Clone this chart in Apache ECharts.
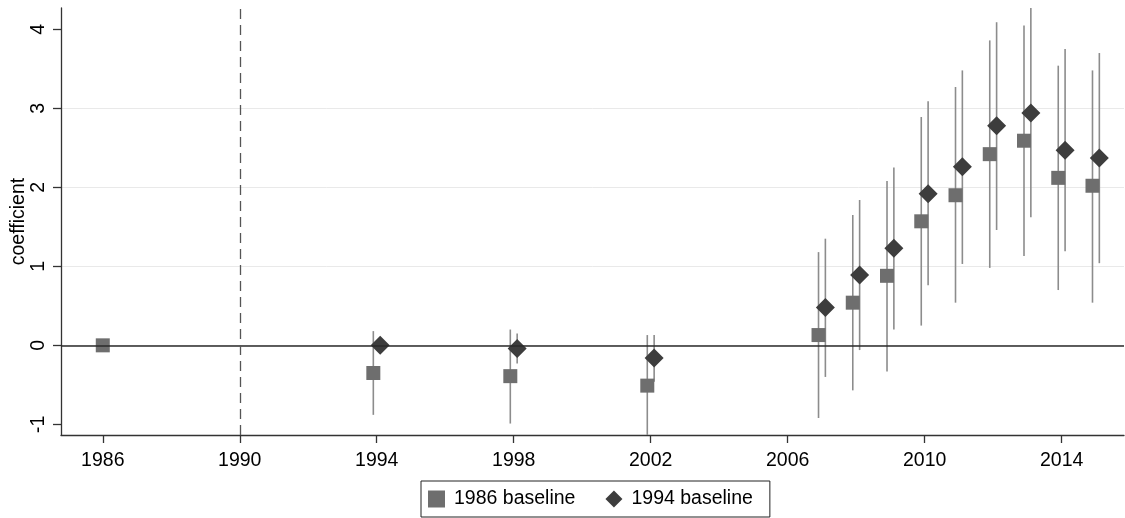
<!DOCTYPE html>
<html>
<head>
<meta charset="utf-8">
<script src="https://cdn.jsdelivr.net/npm/echarts@6/dist/echarts.min.js"></script>
<style>html,body{margin:0;padding:0;background:#fff}#c{width:1125px;height:518px}</style>
</head>
<body>
<div id="c"></div>
<script>
// ---- data ----
const years86 = [1986, 1994, 1998, 2002, 2007, 2008, 2009, 2010, 2011, 2012, 2013, 2014, 2015];
const coef86  = [0, -0.35, -0.39, -0.51, 0.13, 0.54, 0.88, 1.57, 1.90, 2.42, 2.59, 2.12, 2.02];
const lo86    = [null, -0.88, -0.99, -1.20, -0.92, -0.57, -0.33, 0.25, 0.54, 0.98, 1.13, 0.70, 0.54];
const hi86    = [null, 0.18, 0.20, 0.13, 1.18, 1.65, 2.08, 2.89, 3.27, 3.86, 4.05, 3.54, 3.48];

const years94 = [1994, 1998, 2002, 2007, 2008, 2009, 2010, 2011, 2012, 2013, 2014, 2015];
const coef94  = [0, -0.04, -0.16, 0.48, 0.89, 1.23, 1.92, 2.26, 2.78, 2.94, 2.47, 2.37];
const lo94    = [null, -0.23, -0.46, -0.40, -0.06, 0.20, 0.76, 1.03, 1.46, 1.62, 1.19, 1.04];
const hi94    = [null, 0.15, 0.13, 1.35, 1.84, 2.25, 3.09, 3.48, 4.09, 4.35, 3.75, 3.70];

const xTicks = [1986, 1990, 1994, 1998, 2002, 2006, 2010, 2014];
const yTicks = [-1, 0, 1, 2, 3, 4];
const seriesNames = ['1986 baseline', '1994 baseline'];
const refYear = 1990;

// ---- build ----
const off86 = -0.1, off94 = 0.1;
function shift(y, off){ return y === 1986 ? y : y + off; }
const pts86 = years86.map((y, i) => [shift(y, off86), coef86[i]]);
const pts94 = years94.map((y, i) => [shift(y, off94), coef94[i]]);
const bars = [];
years86.forEach((y, i) => { if (lo86[i] !== null) bars.push([shift(y, off86), lo86[i], hi86[i]]); });
years94.forEach((y, i) => { if (lo94[i] !== null) bars.push([shift(y, off94), lo94[i], hi94[i]]); });

const FONT = '"Liberation Sans", Arial, sans-serif';
const FS = 19.5;

function renderBar(params, api){
  const x = api.value(0), lo = api.value(1), hi = api.value(2);
  const p1 = api.coord([x, lo]), p2 = api.coord([x, hi]);
  return {type:'line', shape:{x1:p1[0], y1:p1[1], x2:p2[0], y2:p2[1]},
          style:{stroke:'#8c8c8c', lineWidth:1.6}};
}

const chart = echarts.init(document.getElementById('c'), null, {renderer:'canvas'});
chart.setOption({
  animation: false,
  backgroundColor: '#fff',
  textStyle: {fontFamily: FONT},
  grid: {left: 61, top: 8, right: 1, bottom: 83, containLabel: false, outerBoundsMode: 'none'},
  legend: {
    left: 421, top: 481,
    data: [{name: seriesNames[0], icon: 'rect'}, {name: seriesNames[1], icon: 'diamond'}],
    itemWidth: 17, itemHeight: 17, itemGap: 30,
    borderColor: '#222', borderWidth: 1, borderRadius: 0,
    padding: [8, 17, 8, 7],
    textStyle: {fontFamily: FONT, fontSize: FS, color: '#000', padding: [0, 0, 0, 4], lineHeight: 20}
  },
  xAxis: {
    type: 'value', min: 1984.78, max: 2015.82,
    axisLine: {show: true, onZero: false, lineStyle: {color: '#333', width: 1.3}},
    axisTick: {show: true, length: 8, lineStyle: {color: '#333', width: 1.3}, customValues: xTicks},
    axisLabel: {customValues: xTicks, fontSize: FS, color: '#000', margin: 16, fontFamily: FONT,
                formatter: v => String(Math.round(v))},
    splitLine: {show: false}
  },
  yAxis: {
    type: 'value', min: -1.135, max: 4.27,
    name: 'coefficient', nameLocation: 'middle', nameGap: 32, nameRotate: 90, nameMoveOverlap: false,
    nameTextStyle: {fontSize: FS, color: '#000', fontFamily: FONT},
    axisLine: {show: true, onZero: false, lineStyle: {color: '#333', width: 1.3}},
    axisTick: {show: true, length: 8, lineStyle: {color: '#333', width: 1.3}, customValues: yTicks},
    axisLabel: {customValues: yTicks, fontSize: FS, color: '#000', margin: 12, rotate: 90, fontFamily: FONT},
    splitLine: {show: true, customValues: yTicks, showMinLine: false, showMaxLine: false,
                lineStyle: {color: '#e9e9e9', width: 1}}
  },
  series: [
    {
      type: 'custom', renderItem: renderBar, data: bars, clip: true, z: 1,
      encode: {x: 0, y: [1, 2]}, silent: true,
      markLine: {
        silent: true, symbol: 'none', label: {show: false}, animation: false,
        data: [
          {yAxis: 0, lineStyle: {color: '#2a2a2a', width: 1.6, type: 'solid'}},
          {xAxis: refYear, lineStyle: {color: '#555', width: 1.3, type: [10, 6]}}
        ]
      }
    },
    {
      name: seriesNames[0], type: 'scatter', data: pts86, symbol: 'rect', symbolSize: 14, z: 3,
      itemStyle: {color: '#6e6e6e', opacity: 1}
    },
    {
      name: seriesNames[1], type: 'scatter', data: pts94, symbol: 'diamond', symbolSize: 19, z: 4,
      itemStyle: {color: '#3d3d3d', opacity: 1}
    }
  ]
});
</script>
</body>
</html>
